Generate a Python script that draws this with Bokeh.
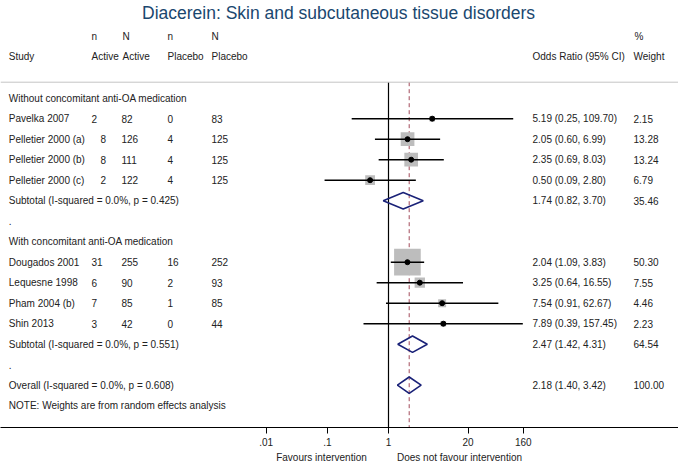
import math
from bokeh.plotting import figure
from bokeh.models import Range1d, LinearScale, FixedTicker, Span, LinearAxis, ColumnDataSource
from bokeh.core.properties import value
from bokeh.embed import file_html
from bokeh.resources import INLINE

# ---------------- data ----------------
title = "Diacerein: Skin and subcutaneous tissue disorders"
groups = ["Without concomitant anti-OA medication", "With concomitant anti-OA medication"]
studies = ["Pavelka 2007", "Pelletier 2000 (a)", "Pelletier 2000 (b)", "Pelletier 2000 (c)",
           "Dougados 2001", "Lequesne 1998", "Pham 2004 (b)", "Shin 2013"]
study_group = [0, 0, 0, 0, 1, 1, 1, 1]
n_active = [2, 8, 8, 2, 31, 6, 7, 3]
N_active = [82, 126, 111, 122, 255, 90, 85, 42]
n_placebo = [0, 4, 4, 4, 16, 2, 1, 0]
N_placebo = [83, 125, 125, 125, 252, 93, 85, 44]
or_est = [5.19, 2.05, 2.35, 0.50, 2.04, 3.25, 7.54, 7.89]
ci_lo = [0.25, 0.60, 0.69, 0.09, 1.09, 0.64, 0.91, 0.39]
ci_hi = [109.70, 6.99, 8.03, 2.80, 3.83, 16.55, 62.67, 157.45]
weights = [2.15, 13.28, 13.24, 6.79, 50.30, 7.55, 4.46, 2.23]

sub_labels = ["Subtotal  (I-squared = 0.0%, p = 0.425)", "Subtotal  (I-squared = 0.0%, p = 0.551)"]
sub_est = [1.74, 2.47]
sub_lo = [0.82, 1.42]
sub_hi = [3.70, 4.31]
sub_w = [35.46, 64.54]

overall_label = "Overall  (I-squared = 0.0%, p = 0.608)"
overall_est = 2.18
overall_lo = 1.40
overall_hi = 3.42
overall_w = 100.00
note = "NOTE: Weights are from random effects analysis"

ticks = [0.01, 0.1, 1, 20, 160]
tick_labels = [".01", ".1", "1", "20", "160"]
favours_left = "Favours intervention"
favours_right = "Does not favour intervention"

# ---------------- layout constants ----------------
W, H = 678, 466
PPD = 61.13          # pixels per decade
X1 = 388             # pixel position of OR = 1
ROW = 20.5           # pixels per row
R0 = 97.7            # pixel y of first row
AXIS_Y = 427         # pixel y of the x axis line
TOP_R = -R0 / ROW
BOT_R = (AXIS_Y - R0) / ROW
LINE_R = (81.7 - R0) / ROW
FONT = value("Liberation Sans")
FS = "10px"
TXT = "#222222"

# column x positions (pixels)
C_STUDY, C_NA, C_NA2, C_NP, C_NP2, C_OR, C_W = 8.3, 91, 121, 167, 211, 532, 633
C_NA_LONG = 100

p = figure(width=W, height=H, x_axis_type="log",
           x_range=Range1d(10 ** (-X1 / PPD), 10 ** ((W - X1) / PPD)),
           y_range=Range1d(BOT_R, TOP_R),
           extra_x_ranges={"px": Range1d(0, W)}, extra_x_scales={"px": LinearScale()},
           output_backend="svg", toolbar_location=None, y_axis_location=None,
           min_border_left=0, min_border_right=0, min_border_top=0,
           min_border_bottom=H - AXIS_Y)
p.grid.visible = False
p.outline_line_color = None
p.background_fill_color = "white"
p.border_fill_color = "white"

# ---------------- rows ----------------
tx, ty, tt = [], [], []
def add_text(x, y, s):
    tx.append(x); ty.append(y); tt.append(s)

study_rows = []
sub_rows = []
r = 0
for g in range(len(groups)):
    add_text(C_STUDY, r, groups[g]); r += 1
    for i in range(len(studies)):
        if study_group[i] == g:
            study_rows.append(r)
            add_text(C_STUDY, r, studies[i])
            add_text(C_NA if len(studies[i]) < 17 else C_NA_LONG, r, str(n_active[i]))
            add_text(C_NA2, r, str(N_active[i]))
            add_text(C_NP, r, str(n_placebo[i]))
            add_text(C_NP2, r, str(N_placebo[i]))
            add_text(C_OR, r, f"{or_est[i]:.2f} ({ci_lo[i]:.2f}, {ci_hi[i]:.2f})")
            add_text(C_W, r, f"{weights[i]:.2f}")
            r += 1
    sub_rows.append(r)
    add_text(C_STUDY, r, sub_labels[g])
    add_text(C_OR, r, f"{sub_est[g]:.2f} ({sub_lo[g]:.2f}, {sub_hi[g]:.2f})")
    add_text(C_W, r, f"{sub_w[g]:.2f}")
    r += 1
    add_text(C_STUDY, r, "."); r += 1
overall_row = r
add_text(C_STUDY, r, overall_label)
add_text(C_OR, r, f"{overall_est:.2f} ({overall_lo:.2f}, {overall_hi:.2f})")
add_text(C_W, r, f"{overall_w:.2f}")
r += 1
add_text(C_STUDY, r, note)

# headers
HN = (36 - R0) / ROW
HA = (56 - R0) / ROW
for x, y, s in [(C_NA, HN, "n"), (C_NA2 + 1, HN, "N"), (C_NP, HN, "n"), (C_NP2, HN, "N"), (C_W + 1, HN, "%"),
                (C_STUDY, HA, "Study"), (C_NA, HA, "Active"), (C_NA2 + 1, HA, "Active"),
                (C_NP, HA, "Placebo"), (C_NP2, HA, "Placebo"),
                (C_OR, HA, "Odds Ratio (95% CI)"), (C_W, HA, "Weight")]:
    add_text(x, y, s)

p.text(x=tx, y=ty, text=tt, x_range_name="px", text_font=FONT, text_font_size=FS,
       text_baseline="middle", text_align="left", text_color=TXT)

# title
p.text(x=[338], y=[(12.5 - R0) / ROW], text=[title], x_range_name="px", text_font=FONT,
       text_font_size="17.5px", text_baseline="middle", text_align="center", text_color="#1a476f")

# header rule
p.add_layout(Span(location=LINE_R, dimension="width", line_color="#c4c4c4", line_width=1))

# null line and overall line
p.segment(x0=[1], x1=[1], y0=[LINE_R], y1=[BOT_R], line_color="black", line_width=1.2)
p.segment(x0=[overall_est], x1=[overall_est], y0=[LINE_R], y1=[BOT_R],
          line_color="#a34a5a", line_width=1, line_dash="4 3")

# study squares, CIs, dots
src = ColumnDataSource(dict(y=study_rows, est=or_est, lo=ci_lo, hi=ci_hi,
                            size=[3.76 * math.sqrt(w) for w in weights]))
p.scatter(x="est", y="y", size="size", marker="square", source=src,
          fill_color="#bdbdbd", line_color=None)
p.segment(x0="lo", x1="hi", y0="y", y1="y", source=src, line_color="black", line_width=1.5)
p.scatter(x="est", y="y", size=5, source=src, color="black")

# diamonds
h = 8.2 / ROW
d_est = sub_est + [overall_est]
d_lo = sub_lo + [overall_lo]
d_hi = sub_hi + [overall_hi]
d_rows = sub_rows + [overall_row]
xs = [[lo, e, hi, e] for lo, e, hi in zip(d_lo, d_est, d_hi)]
ys = [[y, y - h, y, y + h] for y in d_rows]
p.patches(xs=xs, ys=ys, fill_color=None, line_color="#1a2278", line_width=1.6)

# x axis
ax = p.xaxis[0]
ax.ticker = FixedTicker(ticks=ticks)
ax.major_label_overrides = {t: l for t, l in zip(ticks, tick_labels)}
ax.minor_tick_line_color = None
ax.major_tick_in = 0
ax.major_tick_out = 6
ax.major_tick_line_color = "black"
ax.axis_line_color = "black"
ax.axis_line_width = 1.2
ax.major_label_standoff = 4
ax.major_label_text_font = "Liberation Sans"
ax.major_label_text_font_size = FS
ax.major_label_text_color = TXT

# favours labels as a second, line-less axis
fav_pos = [321, 459]
fav_axis = LinearAxis(x_range_name="px", ticker=FixedTicker(ticks=fav_pos),
                      major_label_overrides={fav_pos[0]: favours_left, fav_pos[1]: favours_right},
                      axis_line_color=None, major_tick_line_color=None, minor_tick_line_color=None,
                      major_tick_in=0, major_tick_out=0, major_label_standoff=3,
                      major_label_text_font="Liberation Sans", major_label_text_font_size=FS,
                      major_label_text_color=TXT)
p.add_layout(fav_axis, "below")

open("out.html", "w").write(file_html(p, INLINE))
